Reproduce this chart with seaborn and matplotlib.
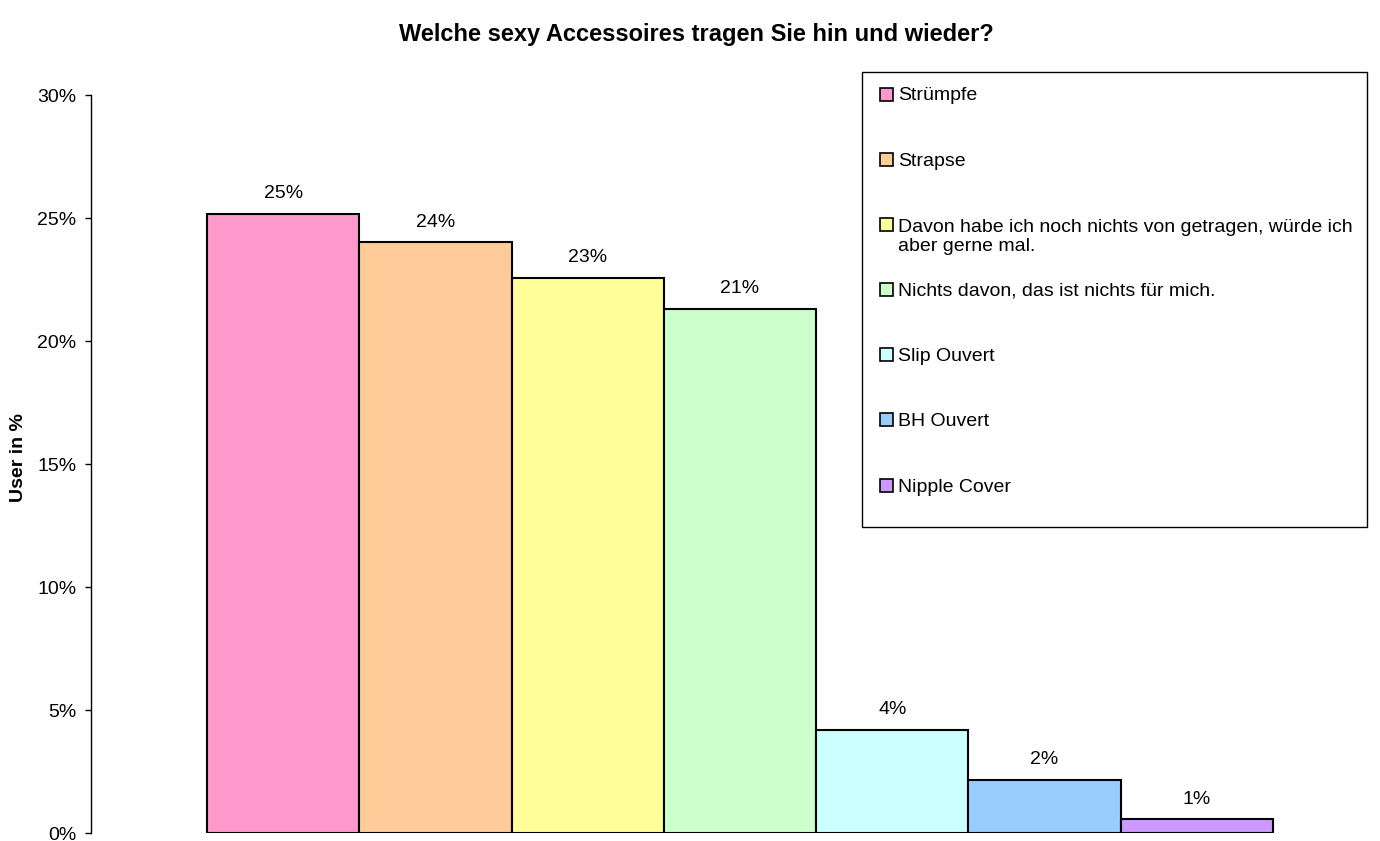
import matplotlib
matplotlib.use("Agg")
import matplotlib.pyplot as plt
from matplotlib.patches import Rectangle
import seaborn as sns
import pandas as pd

# Survey answers and share of users (percent)
categories = [
    "Strümpfe",
    "Strapse",
    "Davon habe ich noch nichts von getragen, würde ich aber gerne mal.",
    "Nichts davon, das ist nichts für mich.",
    "Slip Ouvert",
    "BH Ouvert",
    "Nipple Cover",
]
values = [25.18, 24.03, 22.58, 21.32, 4.20, 2.16, 0.56]
legend_labels = [
    "Strümpfe",
    "Strapse",
    "Davon habe ich noch nichts von getragen, würde ich\naber gerne mal.",
    "Nichts davon, das ist nichts für mich.",
    "Slip Ouvert",
    "BH Ouvert",
    "Nipple Cover",
]
colors = ["#FF99CC", "#FFCC99", "#FFFF99", "#CCFFCC", "#CCFFFF", "#99CCFF", "#CC99FF"]
y_ticks = [0, 5, 10, 15, 20, 25, 30]
title = "Welche sexy Accessoires tragen Sie hin und wieder?"
y_label = "User in %"

sns.set_theme(style="white")
plt.rcParams["font.family"] = ["Liberation Sans", "DejaVu Sans"]
plt.rcParams["text.color"] = "black"
plt.rcParams["axes.labelcolor"] = "black"
plt.rcParams["ytick.color"] = "black"

W, H = 1380, 841
fig = plt.figure(figsize=(W / 100, H / 100), dpi=100)


def fx(px):
    return px / W


def fy(py):
    return 1 - py / H


ax_left, ax_right, ax_top, ax_bottom = 91, 1373, 95.4, 833
ax = fig.add_axes([fx(ax_left), fy(ax_bottom), fx(ax_right - ax_left), (ax_bottom - ax_top) / H])

df = pd.DataFrame({"cat": categories, "val": values})
sns.barplot(
    data=df, x="cat", y="val", hue="cat", order=categories, hue_order=categories,
    palette=colors, width=1.0, edgecolor="black", linewidth=1.5,
    saturation=1, legend=False, ax=ax,
)

unit = 152.3
ax.set_xlim(-0.5 - (207 - ax_left) / unit, 6.5 + (ax_right - 1273) / unit)
ax.set_ylim(0, 30)
ax.set_yticks(y_ticks)
ax.set_yticklabels([f"{t}%" for t in y_ticks], fontsize=14)
ax.set_xticks([])
ax.set_xlabel("")
ax.set_ylabel(y_label, fontsize=14, fontweight="bold")
ax.yaxis.set_label_coords((27 - ax_left) / (ax_right - ax_left),
                          (ax_bottom - 458) / (ax_bottom - ax_top))
for s in ["top", "right", "bottom"]:
    ax.spines[s].set_visible(False)
ax.spines["left"].set_color("black")
ax.spines["left"].set_linewidth(1)
ax.tick_params(axis="y", direction="out", length=4, width=1, color="black", pad=6.5, left=True)
ax.set_facecolor("white")

# value labels above each bar
for i, v in enumerate(values):
    ax.annotate(f"{v:.0f}%", (i, v), xytext=(0, 14.5), textcoords="offset points",
                ha="center", va="center", fontsize=14)

fig.text(fx(696), fy(35), title, ha="center", va="center", fontsize=17, fontweight="bold")

# legend box
fig.add_artist(Rectangle((fx(862), fy(527)), fx(1367 - 862), (527 - 72) / H,
                         transform=fig.transFigure, facecolor="white",
                         edgecolor="black", linewidth=1))
entry_y = [94, 159, 224, 289, 354, 419, 485]
for lab, col, yy in zip(legend_labels, colors, entry_y):
    fig.add_artist(Rectangle((fx(880), fy(yy + 6.5)), fx(13), 13 / H,
                             transform=fig.transFigure, facecolor=col,
                             edgecolor="black", linewidth=1.2))
    ty = yy + 13 if "\n" in lab else yy + 2
    fig.text(fx(898), fy(ty), lab, ha="left", va="center",
             fontsize=14, linespacing=1.15,
             transform=fig.transFigure)

fig.savefig("out.png", dpi=100, facecolor="white")
